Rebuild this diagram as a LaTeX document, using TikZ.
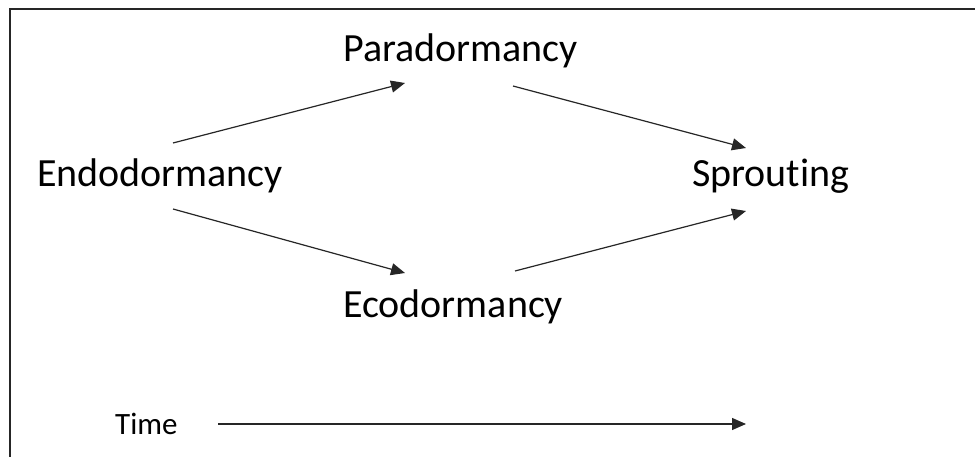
\documentclass[tikz,border=0pt]{standalone}
\usepackage{fontspec}
\setmainfont{Carlito}[Ligatures=NoCommon]
\usetikzlibrary{arrows.meta}
\begin{document}
\begin{tikzpicture}[x=1pt,y=-1pt,
  bigtxt/.style={anchor=base west,inner sep=0pt,font=\fontsize{40}{48}\selectfont},
  smalltxt/.style={anchor=base west,inner sep=0pt,font=\fontsize{31}{37}\selectfont},
  conn/.style={line width=1.2pt,draw=black!85,-{Triangle[length=14pt,width=12pt]}}]
\useasboundingbox (0,0) rectangle (975,457);
\fill[white] (0,0) rectangle (975,457);
\draw[line width=2.2pt,black!85] (10,458) -- (10,9) -- (976,9);
\node[bigtxt] (endo) at (37,187) {Endodormancy};
\node[bigtxt] (para) at (343,62) {Paradormancy};
\node[bigtxt] (eco) at (343,317) {Ecodormancy};
\node[bigtxt] (sprout) at (692,187) {Sprouting};
\node[smalltxt] (time) at (115,434) {Time};
\coordinate (endoU) at (173,143);
\coordinate (endoD) at (173,209);
\coordinate (paraIn) at (405,83);
\coordinate (paraOut) at (513,86);
\coordinate (ecoIn) at (405,273);
\coordinate (ecoOut) at (515,271);
\coordinate (sproutU) at (746,148);
\coordinate (sproutD) at (746,211);
\coordinate (timeS) at (218,424);
\coordinate (timeE) at (746,424);
\draw[conn] (endoU) -- (paraIn);
\draw[conn] (paraOut) -- (sproutU);
\draw[conn] (endoD) -- (ecoIn);
\draw[conn] (ecoOut) -- (sproutD);
\draw[conn] (timeS) -- (timeE);
\end{tikzpicture}
\end{document}
